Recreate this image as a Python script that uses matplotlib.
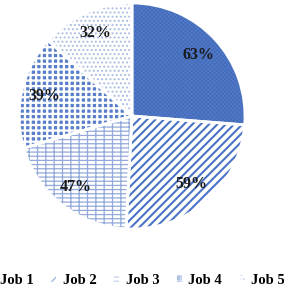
import matplotlib
matplotlib.use('Agg')
import matplotlib.pyplot as plt
from matplotlib.patches import Patch

jobs = ['Job 1', 'Job 2', 'Job 3', 'Job 4', 'Job 5']
values = [63, 59, 47, 39, 32]
labels = ['63%', '59%', '47%', '39%', '32%']

faces = ['#5079C9', 'white', 'white', '#5A7FCA', 'white']
hatch_colors = ['#4167B3', '#4A74C6', '#93AADA', 'white', '#A9BCE3']
hatches = ['xxxxxxxx', '////', '----||', '+++', '....']
hatch_lws = [0.4, 1.5, 0.9, 1.6, 0.9]

plt.rcParams['font.family'] = ['Liberation Serif', 'DejaVu Serif']

W, H = 284, 302
fig = plt.figure(figsize=(W / 100, H / 100), dpi=100)
cx, cy, r = 132, 116, 113
ax = fig.add_axes([(cx - r) / W, (H - cy - r) / H, 2 * r / W, 2 * r / H])


def set_hlw(p, lw):
    try:
        p.set_hatch_linewidth(lw)
    except AttributeError:
        p._hatch_linewidth = lw


wedges, texts = ax.pie(values, labels=labels, startangle=90, counterclock=False,
                       labeldistance=0.8,
                       textprops=dict(fontsize=11.5, fontweight='bold', color='#1a1a1a'))
for w, fc, hc, h, lw in zip(wedges, faces, hatch_colors, hatches, hatch_lws):
    w.set_facecolor(fc)
    w.set_edgecolor(hc)
    w.set_linewidth(0)
    w.set_hatch(h)
    set_hlw(w, lw)
for t in texts:
    t.set_ha('center')
    t.set_va('center')

# white separators
ax.pie(values, startangle=90, counterclock=False,
       wedgeprops=dict(fill=False, edgecolor='white', linewidth=2.0))
ax.set_xlim(-1, 1)
ax.set_ylim(-1, 1)
ax.set_aspect('equal')

handles = []
for fc, hc, h, lw in zip(faces, hatch_colors, hatches, hatch_lws):
    p = Patch(facecolor=fc, edgecolor=hc, hatch=h, linewidth=0, alpha=0.5)
    set_hlw(p, lw)
    handles.append(p)

fig.legend(handles, jobs, loc='center', bbox_to_anchor=(136.5 / W, 22 / H),
           ncol=5, frameon=False, handlelength=0.35, handleheight=0.35,
           handletextpad=0.45, columnspacing=1.2,
           prop=dict(size=10.5, weight='bold'))

fig.savefig('out.png', dpi=100)
